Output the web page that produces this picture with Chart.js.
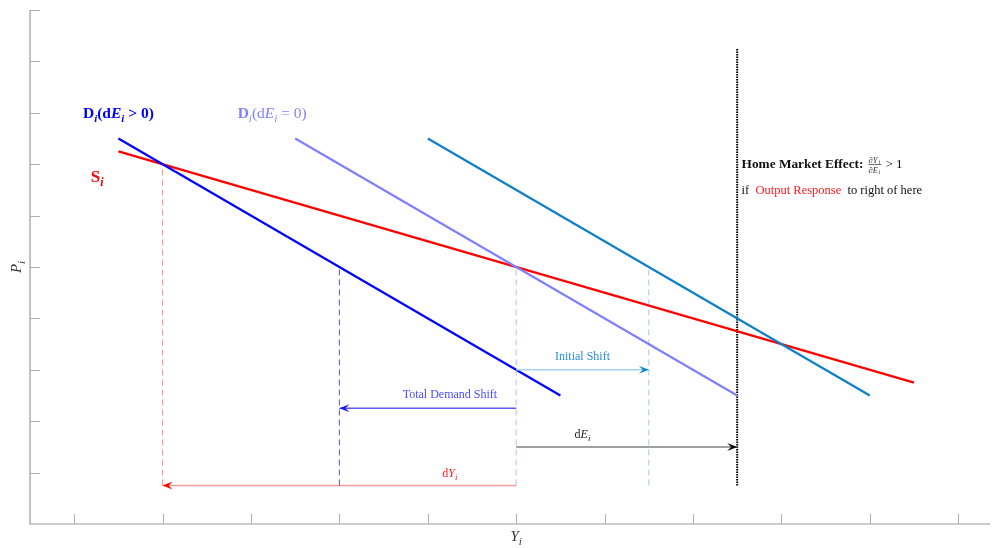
<!DOCTYPE html>
<html>
<head>
<meta charset="utf-8">
<script src="https://cdn.jsdelivr.net/npm/chart.js@4.4.0/dist/chart.umd.min.js"></script>
<style>
  html, body { margin: 0; padding: 0; background: #ffffff; }
  #wrap { width: 993px; height: 548px; }
</style>
</head>
<body>
<div id="wrap"><canvas id="c" width="993" height="548"></canvas></div>
<script>
// ---------- data ----------
const xTicks = [1, 2, 3, 4, 5, 6, 7, 8, 9, 10, 11];
const yTicks = [1, 2, 3, 4, 5, 6, 7, 8, 9, 10];

const supplyX = [1.5, 10.5];
const supplyY = [7.25, 2.75];
const demandPosX = [1.5, 6.5];      // D_i(dE_i > 0)
const demandPosY = [7.5, 2.5];
const demandZeroX = [3.5, 8.5];     // D_i(dE_i = 0)
const demandZeroY = [7.5, 2.5];
const demandInitX = [5, 10];        // initial shifted demand
const demandInitY = [7.5, 2.5];
const hmeX = [8.5, 8.5];            // home market effect threshold
const hmeY = [0.75, 9.25];

const guideX = [2, 4, 6, 7.5];
const guideTop = [7, 5, 5, 5];
const guideBottom = 0.75;

const arrowNames = ["Initial Shift", "Total Demand Shift", "dE", "dY"];
const arrowFromX = [6, 6, 6, 6];
const arrowToX = [7.5, 4, 8.5, 2];
const arrowY = [3, 2.25, 1.5, 0.75];
const arrowLabelX = [6.75, 5.25, 6.75, 5.25];
const arrowLabelY = [3.27, 2.52, 1.75, 1.0];

// ---------- styles ----------
const RED = '#ff0000', BLUE = '#0000ff', LAV = '#8080ff', TEAL = '#0d80c8';
const guideColors = ['rgba(255,0,0,0.45)', 'rgba(40,40,255,0.8)', 'rgba(128,128,255,0.55)', 'rgba(13,128,200,0.4)'];
const shaftColors = ['#a6d3ef', '#5a5aff', '#808080', '#ff9b9b'];
const headColors = ['#1486cf', '#1a1aff', '#000000', '#ff0000'];
const labelColors = ['#2a8fd2', '#4b4bff', '#222222', '#ff2020'];

const pts = (xs, ys) => xs.map((x, i) => ({ x: x, y: ys[i] }));

const datasets = [];
guideX.forEach((gx, i) => {
  datasets.push({ data: pts([gx, gx], [guideBottom, guideTop[i]]), borderColor: guideColors[i], borderWidth: 1, borderDash: [6, 4] });
});
arrowFromX.forEach((fx, i) => {
  datasets.push({ data: pts([fx, arrowToX[i]], [arrowY[i], arrowY[i]]), borderColor: shaftColors[i], borderWidth: 1.5 });
});
datasets.push({ data: pts(demandPosX, demandPosY), borderColor: BLUE, borderWidth: 2.2 });
datasets.push({ data: pts(demandZeroX, demandZeroY), borderColor: LAV, borderWidth: 2.2 });
datasets.push({ data: pts(demandInitX, demandInitY), borderColor: TEAL, borderWidth: 2.2 });
datasets.push({ data: pts(supplyX, supplyY), borderColor: RED, borderWidth: 2.2 });
datasets.push({ data: pts(hmeX, hmeY), borderColor: '#000000', borderWidth: 2, borderDash: [1.5, 1] });
datasets.forEach(d => { d.showLine = true; d.pointRadius = 0; d.fill = false; d.tension = 0; d.borderCapStyle = 'butt'; });

// ---------- rich text helper ----------
const SERIF = '"Liberation Serif", "DejaVu Serif", serif';
function fontOf(seg, size) {
  const st = (seg.b ? 'bold ' : '') + (seg.i ? 'italic ' : '');
  const sz = seg.sub ? Math.round(size * 0.72) : size;
  return st + sz + 'px ' + SERIF;
}
function drawRich(ctx, segs, x, y, align, size, color) {
  let w = 0;
  segs.forEach(s => { ctx.font = fontOf(s, size); s._w = ctx.measureText(s.t).width; w += s._w; });
  let cx = align === 'center' ? x - w / 2 : x;
  ctx.textBaseline = 'alphabetic';
  ctx.textAlign = 'left';
  segs.forEach(s => {
    ctx.font = fontOf(s, size);
    ctx.fillStyle = s.c || color;
    ctx.fillText(s.t, cx, y + (s.sub ? size * 0.25 : 0));
    cx += s._w;
  });
  return w;
}

const overlay = {
  id: 'overlay',
  beforeDatasetsDraw(chart) {
    const ctx = chart.ctx, xs = chart.scales.x, ys = chart.scales.y, a = chart.chartArea;
    ctx.save();
    ctx.strokeStyle = '#9a9a9a';
    ctx.lineWidth = 1.2;
    ctx.beginPath();
    ctx.moveTo(a.left, a.top); ctx.lineTo(a.left, a.bottom); ctx.lineTo(a.right, a.bottom);
    ctx.stroke();
    ctx.lineWidth = 1;
    ctx.strokeStyle = '#b0b0b0';
    xTicks.forEach(t => {
      const px = Math.round(xs.getPixelForValue(t)) + 0.5;
      ctx.beginPath(); ctx.moveTo(px, a.bottom); ctx.lineTo(px, a.bottom - 10); ctx.stroke();
    });
    yTicks.forEach(t => {
      const py = Math.round(ys.getPixelForValue(t)) + 0.5;
      ctx.beginPath(); ctx.moveTo(a.left, py); ctx.lineTo(a.left + 10, py); ctx.stroke();
    });
    ctx.restore();
  },
  afterDatasetsDraw(chart) {
    const ctx = chart.ctx, xs = chart.scales.x, ys = chart.scales.y;
    const X = v => xs.getPixelForValue(v), Y = v => ys.getPixelForValue(v);
    ctx.save();
    // arrow heads
    arrowToX.forEach((tx, i) => {
      const px = X(tx), py = Y(arrowY[i]);
      const d = Math.sign(arrowToX[i] - arrowFromX[i]);
      const L = 10, W = 4;
      ctx.fillStyle = headColors[i];
      ctx.beginPath();
      ctx.moveTo(px, py);
      ctx.lineTo(px - d * L, py - W);
      ctx.lineTo(px - d * L * 0.6, py);
      ctx.lineTo(px - d * L, py + W);
      ctx.closePath();
      ctx.fill();
    });
    // arrow labels
    drawRich(ctx, [{ t: 'Initial Shift' }], X(arrowLabelX[0]), Y(arrowLabelY[0]) + 4, 'center', 12, labelColors[0]);
    drawRich(ctx, [{ t: 'Total Demand Shift' }], X(arrowLabelX[1]), Y(arrowLabelY[1]) + 4, 'center', 12, labelColors[1]);
    drawRich(ctx, [{ t: 'd' }, { t: 'E', i: 1 }, { t: 'i', i: 1, sub: 1 }], X(arrowLabelX[2]), Y(arrowLabelY[2]) + 4, 'center', 12, labelColors[2]);
    drawRich(ctx, [{ t: 'd' }, { t: 'Y', i: 1 }, { t: 'i', i: 1, sub: 1 }], X(arrowLabelX[3]), Y(arrowLabelY[3]) + 4, 'center', 12, labelColors[3]);

    // curve labels
    drawRich(ctx, [{ t: 'D', b: 1 }, { t: 'i', b: 1, i: 1, sub: 1 }, { t: '(d', b: 1 }, { t: 'E', b: 1, i: 1 }, { t: 'i', b: 1, i: 1, sub: 1 }, { t: ' > 0)', b: 1 }],
      X(1.5), Y(8) + 5, 'center', 15.5, BLUE);
    drawRich(ctx, [{ t: 'D', b: 1 }, { t: 'i', i: 1, sub: 1 }, { t: '(d' }, { t: 'E', i: 1 }, { t: 'i', i: 1, sub: 1 }, { t: ' = 0)' }],
      X(3.24), Y(8) + 5, 'center', 15.5, LAV);
    drawRich(ctx, [{ t: 'S', b: 1 }, { t: 'i', b: 1, i: 1, sub: 1 }], X(1.26), Y(6.75) + 5, 'center', 17, RED);

    // home market effect note
    const lx = X(8.55), ly = Y(7.0) + 4;
    let w = drawRich(ctx, [{ t: 'Home Market Effect', b: 1 }, { t: ':', b: 1 }], lx, ly, 'left', 13.3, '#111111');
    const fx = lx + w + 5;
    ctx.fillStyle = '#333333';
    ctx.textAlign = 'left';
    ctx.font = 'italic 8.5px ' + SERIF;
    ctx.fillText('\u2202Y', fx, ly - 5.5);
    ctx.font = 'italic 6px ' + SERIF;
    ctx.fillText('i', fx + 10, ly - 4.5);
    ctx.font = 'italic 8.5px ' + SERIF;
    ctx.fillText('\u2202E', fx, ly + 4.5);
    ctx.font = 'italic 6px ' + SERIF;
    ctx.fillText('i', fx + 10, ly + 5.5);
    ctx.fillRect(fx, ly - 4, 13, 0.7);
    drawRich(ctx, [{ t: '> 1' }], fx + 17, ly, 'left', 13, '#111111');
    drawRich(ctx, [{ t: 'if  ' }, { t: 'Output Response', c: '#ff1a1a' }, { t: '  to right of here' }], lx, Y(6.5) + 4, 'left', 12.5, '#111111');

    // axis titles
    const a = chart.chartArea;
    drawRich(ctx, [{ t: 'Y', i: 1 }, { t: 'i', i: 1, sub: 1 }], X(6), a.bottom + 17, 'center', 15, '#333333');
    ctx.save();
    ctx.translate(21, Y(5));
    ctx.rotate(-Math.PI / 2);
    drawRich(ctx, [{ t: 'P', i: 1 }, { t: 'i', i: 1, sub: 1 }], 0, 0, 'center', 15, '#333333');
    ctx.restore();
    ctx.restore();
  }
};

new Chart(document.getElementById('c'), {
  type: 'scatter',
  data: { datasets: datasets },
  options: {
    responsive: false,
    devicePixelRatio: 1,
    animation: false,
    layout: { padding: { left: 30, top: 10, right: 3, bottom: 24 } },
    plugins: { legend: { display: false }, tooltip: { enabled: false } },
    scales: {
      x: { type: 'linear', display: false, min: 0.5, max: 11.36 },
      y: { type: 'linear', display: false, min: 0, max: 10 }
    }
  },
  plugins: [overlay]
});
</script>
</body>
</html>
